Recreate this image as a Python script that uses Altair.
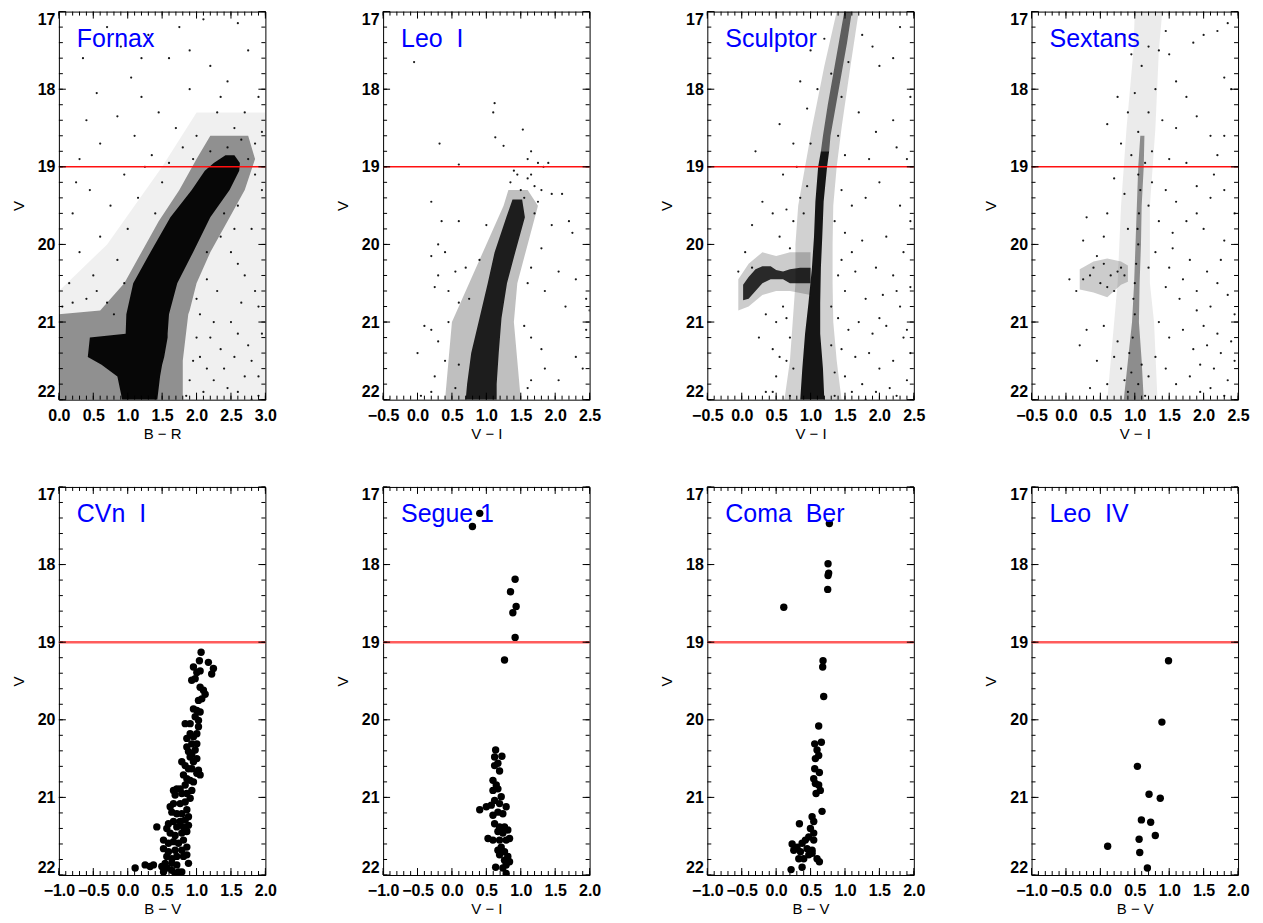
import altair as alt
import pandas as pd

W, H = 207, 389
FONT = "Liberation Sans"

NAMES = ["Fornax", "Leo\u00a0\u00a0I", "Sculptor", "Sextans",
         "CVn\u00a0\u00a0I", "Segue\u00a01", "Coma\u00a0\u00a0Ber", "Leo\u00a0\u00a0IV"]
XTITLES = ["B \u2212 R", "V \u2212 I", "V \u2212 I", "V \u2212 I",
           "B \u2212 V", "V \u2212 I", "B \u2212 V", "B \u2212 V"]
XDOMAINS = [[0.0, 3.0], [-0.5, 2.5], [-0.5, 2.5], [-0.5, 2.5],
            [-1.0, 2.0], [-1.0, 2.0], [-1.0, 2.0], [-1.0, 2.0]]
XLABELS_A = [0.0, 0.5, 1.0, 1.5, 2.0, 2.5, 3.0]
XLABELS_B = [-0.5, 0.0, 0.5, 1.0, 1.5, 2.0, 2.5]
XLABELS_C = [-1.0, -0.5, 0.0, 0.5, 1.0, 1.5, 2.0]
YLABELS = [17, 18, 19, 20, 21, 22]
CUT_V = [19]

# ---- top row: density bands (V, left colour, right colour) ----
FORNAX_CORE = [(18.85, 2.42, 2.55), (18.95, 2.25, 2.63), (19.05, 2.12, 2.62), (19.3, 1.93, 2.48),
               (19.65, 1.62, 2.20), (20.1, 1.33, 1.95), (20.5, 1.08, 1.72), (20.9, 0.98, 1.60),
               (21.15, 0.97, 1.58), (21.2, 0.45, 1.58), (21.45, 0.42, 1.53), (21.55, 0.62, 1.50),
               (21.7, 0.85, 1.47), (22.0, 0.92, 1.43)]
FORNAX_HALO = [(18.6, 2.2, 2.75), (18.9, 2.0, 2.85), (19.3, 1.75, 2.7), (19.7, 1.45, 2.45),
               (20.1, 1.2, 2.2), (20.5, 0.95, 2.0), (20.85, 0.6, 1.9), (20.9, 0.0, 1.88),
               (21.5, 0.0, 1.8), (22.0, 0.0, 1.8)]
FORNAX_FIELD = [(18.3, 2.0, 3.0), (19.0, 1.5, 3.0), (20.0, 0.7, 3.0), (20.6, 0.0, 3.0), (22.0, 0.0, 3.0)]

LEO1_CORE = [(19.42, 1.38, 1.52), (19.65, 1.29, 1.56), (20.1, 1.12, 1.42), (20.5, 1.02, 1.30),
             (20.95, 0.90, 1.22), (21.4, 0.78, 1.18), (21.8, 0.72, 1.15), (22.0, 0.70, 1.15)]
LEO1_HALO = [(19.3, 1.32, 1.6), (19.5, 1.25, 1.75), (20.0, 1.0, 1.6), (20.5, 0.75, 1.45),
             (21.0, 0.5, 1.4), (21.5, 0.45, 1.45), (22.0, 0.4, 1.5)]

SCULPTOR_UPPER = [(17.0, 1.49, 1.60), (17.4, 1.41, 1.53), (17.8, 1.33, 1.45), (18.2, 1.25, 1.37),
                  (18.6, 1.18, 1.29), (18.8, 1.15, 1.27)]
SCULPTOR_CORE = [(18.8, 1.15, 1.27), (19.0, 1.11, 1.24), (19.45, 1.07, 1.19), (19.9, 1.05, 1.17),
                 (20.3, 1.02, 1.15), (20.75, 0.97, 1.14), (21.15, 0.92, 1.14), (21.6, 0.88, 1.18),
                 (22.0, 0.85, 1.20)]
SCULPTOR_HALO = [(17.0, 1.38, 1.7), (17.7, 1.2, 1.58), (18.5, 1.02, 1.45), (19.0, 0.92, 1.38),
                 (19.5, 0.82, 1.33), (20.0, 0.78, 1.32), (20.5, 0.78, 1.32), (21.0, 0.74, 1.33),
                 (21.5, 0.7, 1.38), (22.0, 0.62, 1.45)]
# horizontal branch (colour, faint V, bright V)
SCULPTOR_HB_CORE = [(0.02, 20.52, 20.72), (0.1, 20.42, 20.70), (0.2, 20.32, 20.60), (0.3, 20.28, 20.50),
                    (0.42, 20.28, 20.45), (0.5, 20.33, 20.45), (0.6, 20.35, 20.45), (0.7, 20.32, 20.50),
                    (0.85, 20.30, 20.50), (1.0, 20.30, 20.50)]
SCULPTOR_HB_HALO = [(-0.05, 20.45, 20.85), (0.1, 20.25, 20.8), (0.3, 20.1, 20.65), (0.5, 20.15, 20.6),
                    (0.7, 20.1, 20.6), (1.0, 20.1, 20.65)]

SEXTANS_CORE = [(18.6, 1.08, 1.14), (19.0, 1.05, 1.13), (19.5, 1.03, 1.10), (20.0, 1.01, 1.09),
                (20.5, 0.99, 1.07), (21.0, 0.96, 1.06), (21.5, 0.9, 1.1), (22.0, 0.84, 1.13)]
SEXTANS_HALO = [(17.0, 1.0, 1.4), (17.5, 0.98, 1.35), (18.5, 0.88, 1.3), (19.5, 0.8, 1.22), (20.5, 0.75, 1.22),
                (21.0, 0.7, 1.28), (22.0, 0.6, 1.33)]
SEXTANS_HB_HALO = [(0.2, 20.32, 20.58), (0.4, 20.22, 20.62), (0.6, 20.18, 20.68), (0.8, 20.22, 20.52),
                   (0.9, 20.27, 20.48)]

# ---- top row: individual stars (colour, V) ----
FORNAX_STARS = [(0.35, 17.6), (0.9, 17.45), (1.3, 17.3), (1.75, 17.2), (2.1, 17.1), (2.6, 17.15), (2.75, 17.5),
                (2.2, 17.7), (1.6, 17.6), (1.05, 17.85), (0.55, 18.05), (1.2, 18.1), (1.45, 18.3), (0.85, 18.35),
                (1.9, 18.0), (2.45, 17.9), (2.9, 18.1), (2.3, 18.3), (1.7, 18.5), (1.1, 18.6), (0.6, 18.7),
                (0.3, 18.9), (2.0, 18.6), (2.55, 18.5), (2.85, 18.7), (1.35, 18.85), (0.95, 19.1), (0.45, 19.3),
                (0.2, 19.6), (0.75, 19.5), (1.15, 19.4), (1.5, 19.2), (0.6, 19.9), (1.0, 19.8), (0.3, 20.1),
                (0.85, 20.2), (0.15, 20.5), (2.6, 19.5), (2.8, 19.8), (2.95, 19.3), (2.5, 20.1), (2.7, 20.4),
                (2.3, 20.6), (2.9, 20.8), (2.5, 21.0), (2.2, 21.2), (2.75, 21.3), (2.4, 21.6), (2.9, 21.7),
                (2.1, 21.9), (2.6, 21.9), (1.95, 21.5), (2.05, 20.9), (0.5, 20.4), (0.25, 19.2), (1.2, 17.6),
                (1.9, 17.5), (0.7, 17.2), (2.35, 18.1), (1.25, 19.0), (1.6, 18.95), (1.8, 18.75), (2.7, 18.3),
                (2.95, 18.55), (0.4, 18.4), (1.4, 19.6), (0.95, 20.5), (0.7, 20.75), (0.4, 20.7), (2.35, 19.9),
                (2.65, 20.75), (2.95, 21.15), (2.55, 21.45), (2.25, 21.75), (2.8, 22.0), (1.85, 21.95),
                (2.0, 21.2), (2.15, 20.45), (2.45, 18.75), (2.65, 18.65), (2.2, 18.8), (1.95, 18.9), (2.75, 18.9),
                (2.85, 19.1), (2.4, 19.6), (2.55, 19.8), (2.15, 20.1), (2.0, 20.7), (2.25, 21.0), (2.6, 21.15),
                (2.8, 21.5), (2.35, 21.35), (2.7, 21.7), (2.45, 21.85), (2.05, 21.45), (2.9, 21.95), (2.15, 21.6),
                (1.9, 21.75), (2.85, 20.6), (2.6, 20.25), (0.2, 20.75), (0.55, 20.6), (0.8, 20.9), (0.05, 20.8)]
LEO1_STARS = [(-0.05, 17.65), (0.32, 18.7), (1.12, 18.18), (1.1, 18.3), (1.13, 18.62), (1.53, 18.52),
              (1.25, 18.73), (1.65, 18.8), (1.6, 18.9), (1.75, 18.95), (1.9, 18.95), (0.6, 18.97), (1.83, 19.0),
              (1.45, 19.1), (1.6, 19.15), (1.7, 19.25), (1.8, 19.3), (1.95, 19.35), (1.75, 19.45), (2.1, 19.35),
              (0.2, 19.45), (0.35, 19.7), (0.6, 19.7), (1.0, 19.75), (1.95, 19.75), (2.2, 19.7), (2.25, 19.85),
              (1.7, 19.6), (1.8, 20.05), (0.3, 20.0), (0.2, 20.15), (0.4, 20.1), (0.3, 20.4), (0.55, 20.35),
              (0.7, 20.3), (0.9, 20.2), (1.65, 20.3), (2.05, 20.35), (0.25, 20.55), (0.45, 20.6), (0.6, 20.75),
              (0.75, 20.7), (1.6, 20.5), (1.85, 20.6), (2.3, 20.45), (2.15, 20.8), (2.45, 20.7), (2.5, 20.85),
              (0.1, 21.05), (0.2, 21.1), (0.45, 21.0), (0.3, 21.25), (1.55, 21.05), (1.65, 21.2), (1.8, 21.35),
              (2.45, 21.1), (0.0, 21.4), (0.4, 21.5), (0.25, 21.7), (1.85, 21.6), (1.65, 21.75), (2.05, 21.75),
              (2.3, 21.45), (2.4, 21.6), (0.05, 21.95), (0.2, 21.9), (1.6, 21.85), (0.6, 21.55), (0.55, 21.85),
              (1.35, 19.2), (1.5, 19.3), (1.4, 19.05), (1.55, 19.4), (1.65, 19.1)]
SCULPTOR_STARS = [(0.55, 18.45), (0.2, 18.8), (0.85, 17.9), (1.0, 17.5), (1.2, 17.35), (0.95, 18.25), (1.75, 17.3),
                  (1.9, 17.45), (2.0, 17.7), (2.2, 17.6), (2.3, 17.2), (2.45, 18.1), (2.2, 18.4), (1.95, 18.55),
                  (1.7, 18.3), (1.85, 18.9), (2.25, 18.75), (2.4, 18.9), (0.75, 18.7), (0.6, 19.1), (0.8, 19.0),
                  (0.95, 19.25), (0.3, 19.45), (0.45, 19.6), (0.15, 19.75), (0.55, 19.9), (0.75, 19.7), (0.9, 19.6),
                  (1.45, 19.3), (1.6, 19.5), (1.8, 19.4), (2.0, 19.2), (2.3, 19.5), (2.45, 19.7), (1.5, 19.85),
                  (1.75, 19.95), (2.1, 19.9), (2.35, 20.1), (1.45, 20.2), (1.65, 20.35), (1.95, 20.3), (2.2, 20.4),
                  (2.45, 20.55), (1.5, 20.6), (1.8, 20.7), (2.05, 20.65), (2.3, 20.8), (0.35, 20.9), (0.5, 21.0),
                  (0.6, 20.8), (0.25, 21.2), (0.45, 21.35), (0.65, 21.5), (0.5, 21.7), (0.35, 21.9), (0.7, 21.95),
                  (1.4, 20.95), (1.55, 21.1), (1.7, 21.0), (1.9, 21.15), (2.1, 21.05), (2.35, 21.2), (1.45, 21.35),
                  (1.65, 21.45), (1.85, 21.4), (2.0, 21.6), (2.2, 21.5), (2.45, 21.4), (1.5, 21.7), (1.75, 21.8),
                  (1.95, 21.9), (2.15, 21.85), (2.4, 21.75), (1.35, 21.95), (0.15, 20.3), (0.05, 20.1),
                  (-0.05, 20.35), (1.3, 17.8), (1.55, 17.65), (1.1, 18.0), (1.45, 18.1), (1.0, 18.7), (1.4, 18.6),
                  (1.5, 18.85), (0.85, 19.4), (0.65, 19.55), (1.35, 19.7), (0.7, 20.05), (1.4, 20.4), (0.7, 21.2),
                  (0.75, 21.6), (1.3, 21.3), (1.35, 21.65), (0.55, 21.45), (0.65, 20.95), (1.3, 20.8), (2.4, 21.1),
                  (2.25, 21.95), (1.6, 21.9), (0.45, 21.9), (1.8, 22.0), (2.0, 20.95), (2.25, 20.6), (1.6, 20.1)]
SEXTANS_STARS = [(0.85, 17.3), (0.95, 17.55), (1.1, 17.7), (1.2, 17.45), (1.35, 17.5), (1.5, 17.55), (1.45, 17.25),
                 (1.85, 17.4), (2.0, 17.3), (2.2, 17.25), (2.35, 17.15), (1.6, 17.9), (1.75, 18.1), (2.3, 17.85),
                 (2.4, 18.0), (0.75, 18.1), (0.9, 18.3), (1.0, 18.05), (1.2, 18.3), (1.3, 18.0), (1.05, 18.55),
                 (1.4, 18.4), (1.6, 18.5), (1.9, 18.35), (2.1, 18.6), (2.3, 18.6), (0.6, 18.45), (0.8, 18.7),
                 (0.95, 18.85), (1.25, 18.8), (1.5, 18.9), (1.75, 18.95), (2.2, 18.85), (0.7, 19.15), (0.85, 19.35),
                 (1.25, 19.2), (1.45, 19.3), (1.6, 19.45), (1.9, 19.25), (2.1, 19.4), (2.3, 19.3), (0.6, 19.6),
                 (0.3, 19.65), (0.25, 19.95), (0.55, 19.9), (1.35, 19.7), (1.55, 19.85), (1.75, 19.7), (2.0, 19.8),
                 (2.3, 19.95), (2.45, 19.6), (0.45, 20.15), (1.3, 20.1), (1.5, 20.3), (1.8, 20.2), (2.05, 20.35),
                 (2.25, 20.2), (0.05, 20.45), (0.15, 20.6), (1.45, 20.55), (1.65, 20.7), (1.9, 20.6), (2.1, 20.8),
                 (2.35, 20.65), (2.45, 20.9), (0.2, 21.3), (0.3, 21.1), (0.45, 21.5), (0.55, 21.05), (0.6, 21.8),
                 (0.35, 21.85), (1.35, 21.0), (1.5, 21.2), (1.7, 21.1), (1.85, 21.35), (1.95, 21.55), (2.05, 21.3),
                 (2.15, 21.6), (2.25, 21.4), (2.35, 21.75), (2.45, 21.5), (1.45, 21.6), (1.6, 21.8), (1.8, 21.7),
                 (1.95, 21.9), (2.1, 21.85), (2.3, 21.95), (1.3, 21.45), (1.05, 19.1), (1.08, 19.3), (1.06, 19.6),
                 (1.04, 19.8), (1.05, 20.0), (1.02, 20.25), (1.0, 20.5), (0.98, 20.7), (1.0, 20.9), (0.97, 21.2),
                 (0.92, 21.4), (0.95, 21.65), (0.9, 21.9), (0.85, 21.75), (1.05, 21.8), (0.8, 21.6), (1.1, 21.55),
                 (0.25, 20.45), (0.35, 20.4), (0.5, 20.5), (0.6, 20.55), (0.7, 20.6), (0.75, 20.35), (0.8, 20.3),
                 (0.85, 20.4), (0.65, 20.4), (0.55, 20.25), (0.4, 20.3), (2.0, 21.05), (2.2, 21.15), (2.4, 21.25),
                 (1.9, 20.85), (2.2, 20.5), (1.7, 20.45), (1.55, 20.05), (1.9, 19.6), (2.15, 19.1), (1.2, 19.5),
                 (1.15, 18.95), (0.9, 19.8), (1.2, 20.3), (0.75, 21.25), (1.2, 21.7), (1.15, 21.95), (0.7, 21.45)]

# ---- bottom row: member stars (colour, V) ----
CVN1_STARS = [(1.066, 19.13), (1.042, 19.24), (1.172, 19.26), (1.245, 19.34), (1.22, 19.41), (0.955, 19.32),
              (1.004, 19.39), (1.052, 19.37), (0.93, 19.49), (0.98, 19.47), (1.052, 19.58), (1.10, 19.62),
              (1.125, 19.67), (1.028, 19.75), (1.076, 19.73), (0.955, 19.86), (1.004, 19.88), (1.052, 19.90),
              (0.98, 19.96), (1.028, 20.01), (0.907, 20.05), (0.835, 20.05), (1.028, 20.09), (1.004, 20.18),
              (0.955, 20.22), (0.907, 20.18), (0.859, 20.24), (0.931, 20.31), (1.004, 20.31), (0.859, 20.35),
              (0.883, 20.41), (0.931, 20.44), (0.98, 20.39), (1.004, 20.50), (0.955, 20.54), (0.907, 20.48),
              (0.786, 20.54), (0.835, 20.59), (0.883, 20.63), (0.931, 20.63), (1.004, 20.69), (1.052, 20.71),
              (1.028, 20.65), (0.81, 20.71), (0.859, 20.76), (0.907, 20.78), (0.955, 20.80), (0.835, 20.84),
              (0.762, 20.89), (0.713, 20.89), (0.665, 20.91), (0.689, 20.97), (0.786, 20.95), (0.859, 20.95),
              (0.931, 20.91), (0.907, 21.01), (0.835, 21.06), (0.762, 21.08), (0.665, 21.08), (0.617, 21.12),
              (0.641, 21.19), (0.713, 21.21), (0.786, 21.21), (0.859, 21.16), (0.883, 21.25), (0.835, 21.29),
              (0.762, 21.31), (0.665, 21.31), (0.592, 21.34), (0.713, 21.38), (0.81, 21.38), (0.883, 21.36),
              (0.859, 21.44), (0.786, 21.46), (0.689, 21.49), (0.617, 21.46), (0.568, 21.40), (0.423, 21.38),
              (0.52, 21.55), (0.592, 21.59), (0.665, 21.57), (0.738, 21.59), (0.81, 21.55), (0.859, 21.64),
              (0.786, 21.68), (0.689, 21.68), (0.592, 21.70), (0.52, 21.66), (0.568, 21.76), (0.641, 21.79),
              (0.713, 21.76), (0.81, 21.76), (0.883, 21.85), (0.859, 21.74), (0.713, 21.87), (0.641, 21.85),
              (0.544, 21.85), (0.496, 21.89), (0.568, 21.91), (0.641, 21.94), (0.738, 21.96), (0.786, 21.96),
              (0.689, 21.98), (0.52, 21.96), (0.108, 21.91), (0.253, 21.87), (0.326, 21.89), (0.374, 21.87)]
SEGUE1_STARS = [(0.404, 17.34), (0.298, 17.51), (0.918, 18.19), (0.851, 18.35), (0.933, 18.54), (0.885, 18.62),
                (0.918, 18.94), (0.764, 19.23), (0.635, 20.39), (0.62, 20.48), (0.726, 20.47), (0.668, 20.56),
                (0.62, 20.59), (0.692, 20.66), (0.596, 20.78), (0.644, 20.84), (0.596, 20.91), (0.668, 20.89),
                (0.716, 20.99), (0.62, 21.04), (0.788, 21.12), (0.404, 21.16), (0.50, 21.12), (0.572, 21.10),
                (0.692, 21.08), (0.668, 21.19), (0.74, 21.21), (0.596, 21.23), (0.62, 21.34), (0.692, 21.38),
                (0.764, 21.38), (0.812, 21.42), (0.668, 21.44), (0.74, 21.46), (0.524, 21.53), (0.596, 21.55),
                (0.692, 21.55), (0.788, 21.55), (0.837, 21.53), (0.716, 21.64), (0.668, 21.68), (0.764, 21.70),
                (0.692, 21.74), (0.812, 21.76), (0.764, 21.81), (0.837, 21.83), (0.788, 21.87), (0.635, 21.90),
                (0.74, 21.91), (0.788, 21.98)]
COMABER_STARS = [(0.773, 17.47), (0.754, 17.99), (0.763, 18.11), (0.754, 18.14), (0.749, 18.32), (0.111, 18.55),
                 (0.681, 19.24), (0.676, 19.32), (0.691, 19.70), (0.618, 20.08), (0.657, 20.29), (0.56, 20.31),
                 (0.594, 20.39), (0.618, 20.46), (0.57, 20.50), (0.56, 20.63), (0.628, 20.68), (0.546, 20.76),
                 (0.57, 20.82), (0.618, 20.84), (0.642, 20.91), (0.58, 20.95), (0.667, 21.18), (0.522, 21.25),
                 (0.546, 21.31), (0.338, 21.34), (0.498, 21.40), (0.546, 21.46), (0.474, 21.51), (0.546, 21.55),
                 (0.425, 21.55), (0.377, 21.59), (0.232, 21.60), (0.304, 21.64), (0.256, 21.68), (0.353, 21.70),
                 (0.449, 21.66), (0.522, 21.68), (0.329, 21.79), (0.401, 21.79), (0.522, 21.72), (0.594, 21.79),
                 (0.628, 21.83), (0.377, 21.90), (0.217, 21.93), (0.474, 21.74)]
LEO4_STARS = [(0.99, 19.24), (0.894, 20.03), (0.538, 20.60), (0.707, 20.96), (0.87, 21.01), (0.596, 21.29),
              (0.731, 21.32), (0.563, 21.54), (0.798, 21.49), (0.106, 21.63), (0.572, 21.71), (0.683, 21.91)]


def steps(a, b, d):
    n = int(round((b - a) / d))
    return [round(a + k * d, 3) for k in range(n + 1)]


def panel(i, stars, hbands, vbands, xlabels, big):
    xs = alt.Scale(domain=XDOMAINS[i], nice=False, zero=False)
    ys = alt.Scale(domain=[17, 22], reverse=True, nice=False, zero=False)
    xaxis = alt.Axis(values=xlabels, format=".1f", title=XTITLES[i], ticks=False, domain=False, grid=False,
                     labelFont=FONT, labelFontSize=16, labelFontWeight="bold", labelColor="black",
                     labelPadding=8, labelOverlap=False, labelFlush=False,
                     titleFont=FONT, titleFontSize=15, titleFontWeight="normal", titleColor="black",
                     titlePadding=3)
    yaxis = alt.Axis(values=YLABELS, format="d", title="V", ticks=False, domain=False, grid=False,
                     labelFont=FONT, labelFontSize=16, labelFontWeight="bold", labelColor="black",
                     labelPadding=4, labelFlush=True, labelOverlap=False,
                     titleFont=FONT, titleFontSize=15, titleFontWeight="normal", titleColor="black",
                     titlePadding=11)
    X = lambda f: alt.X(f, scale=xs, axis=xaxis)
    Y = lambda f: alt.Y(f, scale=ys, axis=yaxis)

    sdf = pd.DataFrame(stars, columns=["x", "v"])
    if big:
        pm = alt.Chart(sdf).mark_circle(size=55, color="black", opacity=1, clip=True)
    else:
        pm = alt.Chart(sdf).mark_circle(size=5, color="black", opacity=0.9, clip=True)
    layers = [pm.encode(x=X("x:Q"), y=Y("v:Q"))]
    for rows, op in hbands:
        df = pd.DataFrame(rows, columns=["v", "lo", "hi"])
        layers.append(alt.Chart(df).mark_area(color="black", opacity=op, clip=True)
                      .encode(y=Y("v:Q"), x=X("lo:Q"), x2="hi:Q"))
    for rows, op in vbands:
        df = pd.DataFrame(rows, columns=["x", "lo", "hi"])
        layers.append(alt.Chart(df).mark_area(color="black", opacity=op, clip=True)
                      .encode(x=X("x:Q"), y=Y("lo:Q"), y2="hi:Q"))
    # cut line
    rdf = pd.DataFrame({"v": CUT_V})
    layers.append(alt.Chart(rdf).mark_rule(color="#ff5c5c" if big else "#ff1010",
                                           strokeWidth=2.5 if big else 1.6)
                  .encode(y=Y("v:Q")))
    # inward ticks
    d0, d1 = XDOMAINS[i]
    for vals, ln in [(xlabels, 7), (steps(d0, d1, 0.1), 4)]:
        tdf = pd.DataFrame({"x": vals})
        for y0, y1 in [(H, H - ln), (0, ln)]:
            layers.append(alt.Chart(tdf).mark_rule(color="black", strokeWidth=1)
                          .encode(x=X("x:Q"), y=alt.value(y0), y2=alt.value(y1)))
    for vals, ln in [(YLABELS, 7), (steps(17, 22, 0.2), 4)]:
        tdf = pd.DataFrame({"v": vals})
        for x0, x1 in [(0, ln), (W, W - ln)]:
            layers.append(alt.Chart(tdf).mark_rule(color="black", strokeWidth=1)
                          .encode(y=Y("v:Q"), x=alt.value(x0), x2=alt.value(x1)))
    ndf = pd.DataFrame({"name": [NAMES[i]]})
    layers.append(alt.Chart(ndf).mark_text(font=FONT, fontSize=25, color="#0000ff", align="left",
                                           baseline="alphabetic")
                  .encode(text="name:N", x=alt.value(18), y=alt.value(35)))
    return alt.layer(*layers).properties(width=W, height=H)


panels = [
    panel(0, FORNAX_STARS, [(FORNAX_FIELD, 0.06), (FORNAX_HALO, 0.4), (FORNAX_CORE, 0.95)], [], XLABELS_A, False),
    panel(1, LEO1_STARS, [(LEO1_HALO, 0.25), (LEO1_CORE, 0.85)], [], XLABELS_B, False),
    panel(2, SCULPTOR_STARS, [(SCULPTOR_HALO, 0.18), (SCULPTOR_UPPER, 0.55), (SCULPTOR_CORE, 0.9)],
          [(SCULPTOR_HB_HALO, 0.2), (SCULPTOR_HB_CORE, 0.8)], XLABELS_B, False),
    panel(3, SEXTANS_STARS, [(SEXTANS_HALO, 0.08), (SEXTANS_CORE, 0.4)],
          [(SEXTANS_HB_HALO, 0.2)], XLABELS_B, False),
    panel(4, CVN1_STARS, [], [], XLABELS_C, True),
    panel(5, SEGUE1_STARS, [], [], XLABELS_C, True),
    panel(6, COMABER_STARS, [], [], XLABELS_C, True),
    panel(7, LEO4_STARS, [], [], XLABELS_C, True),
]

chart = alt.concat(*panels, columns=4, spacing={"row": 87.5, "column": 118}, bounds="flush").properties(
    padding={"left": 2, "top": 1.5, "right": 5, "bottom": 5},
    background="white",
).configure_view(stroke="black", strokeWidth=1)

chart.save("out.html", embed_options={"renderer": "svg", "actions": False})
